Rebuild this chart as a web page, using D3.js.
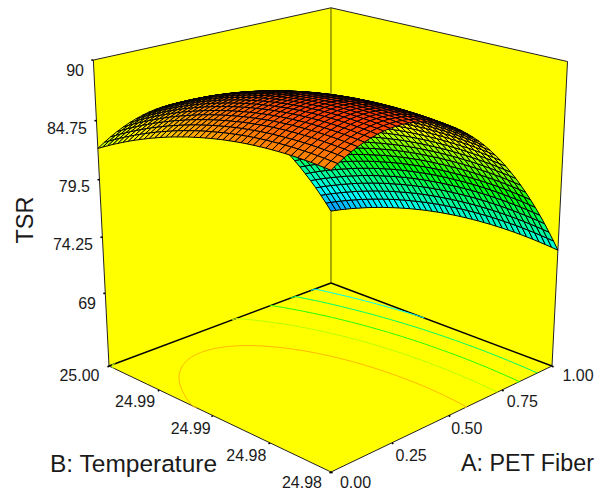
<!DOCTYPE html>
<html>
<head>
<meta charset="utf-8">
<script src="https://cdn.jsdelivr.net/npm/d3@7"></script>
<style>
  body { margin: 0; background: #fff; }
  text { font-family: "Liberation Sans", Arial, sans-serif; fill: #1a1a1a; }
</style>
</head>
<body>
<svg id="chart" width="600" height="490"></svg>
<script>
var zTicks = [69, 74.25, 79.5, 84.75, 90];
var aTicks = [0, 0.25, 0.5, 0.75, 1];
var bTicks = [0, 0.25, 0.5, 0.75, 1];
var aLabels = ["0.00", "0.25", "0.50", "0.75", "1.00"];
var bLabels = ["24.98", "24.98", "24.99", "24.99", "25.00"];
var contourLevels = [72.8, 76.1, 79.3, 82.5, 85.8];

// TSR, one row per step of B (24.98 first), one column per step of A
var zRows = [
[86.90,87.25,87.56,87.84,88.09,88.29,88.46,88.60,88.70,88.77,88.79,88.79,88.75,88.67,88.55,88.41,88.22,88.00,87.74,87.45,87.13,86.76,86.36,85.93,85.46,84.96,84.41,83.84,83.23,82.58,81.89,81.18,80.42,79.63,78.80,77.94,77.05,76.11,75.14,74.14,73.10],
[86.95,87.30,87.62,87.90,88.14,88.35,88.52,88.66,88.76,88.82,88.85,88.85,88.80,88.73,88.61,88.47,88.28,88.06,87.81,87.52,87.19,86.83,86.43,86.00,85.53,85.02,84.48,83.91,83.30,82.65,81.97,81.25,80.49,79.71,78.88,78.02,77.12,76.19,75.22,74.22,73.18],
[86.99,87.34,87.66,87.94,88.18,88.39,88.56,88.70,88.80,88.87,88.90,88.90,88.86,88.78,88.67,88.52,88.34,88.12,87.86,87.57,87.25,86.89,86.49,86.06,85.59,85.09,84.55,83.97,83.36,82.71,82.03,81.31,80.56,79.77,78.95,78.09,77.19,76.26,75.29,74.29,73.25],
[87.03,87.38,87.69,87.97,88.22,88.43,88.60,88.74,88.84,88.91,88.94,88.94,88.90,88.82,88.71,88.56,88.38,88.16,87.91,87.62,87.30,86.94,86.54,86.11,85.64,85.14,84.60,84.02,83.41,82.77,82.09,81.37,80.62,79.83,79.01,78.15,77.25,76.32,75.35,74.35,73.31],
[87.05,87.41,87.72,88.00,88.25,88.46,88.63,88.77,88.87,88.94,88.97,88.97,88.93,88.86,88.75,88.60,88.42,88.20,87.95,87.66,87.34,86.97,86.58,86.15,85.68,85.18,84.64,84.07,83.46,82.82,82.13,81.42,80.66,79.88,79.05,78.19,77.30,76.37,75.41,74.41,73.37],
[87.07,87.42,87.74,88.02,88.27,88.48,88.65,88.79,88.90,88.97,89.00,89.00,88.96,88.88,88.77,88.63,88.44,88.23,87.98,87.69,87.37,87.01,86.61,86.18,85.72,85.21,84.68,84.10,83.50,82.85,82.17,81.46,80.71,79.92,79.10,78.24,77.34,76.41,75.45,74.45,73.41],
[87.08,87.43,87.75,88.03,88.28,88.49,88.67,88.81,88.91,88.98,89.01,89.01,88.97,88.90,88.79,88.65,88.47,88.25,88.00,87.71,87.39,87.03,86.64,86.21,85.74,85.24,84.70,84.13,83.52,82.88,82.20,81.49,80.73,79.95,79.13,78.27,77.38,76.45,75.49,74.49,73.45],
[87.08,87.43,87.75,88.03,88.28,88.49,88.67,88.81,88.92,88.99,89.02,89.02,88.98,88.91,88.80,88.66,88.48,88.26,88.01,87.73,87.40,87.05,86.65,86.22,85.76,85.26,84.72,84.15,83.54,82.90,82.22,81.51,80.76,79.97,79.15,78.29,77.40,76.48,75.51,74.51,73.48],
[87.07,87.42,87.74,88.03,88.28,88.49,88.67,88.81,88.91,88.99,89.02,89.02,88.98,88.91,88.81,88.66,88.48,88.27,88.02,87.73,87.41,87.05,86.66,86.23,85.77,85.27,84.73,84.16,83.55,82.91,82.23,81.52,80.77,79.99,79.17,78.31,77.42,76.49,75.53,74.53,73.50],
[87.05,87.41,87.72,88.01,88.26,88.48,88.65,88.80,88.90,88.97,89.01,89.01,88.97,88.90,88.80,88.65,88.47,88.26,88.01,87.72,87.40,87.05,86.66,86.23,85.77,85.27,84.73,84.16,83.56,82.92,82.24,81.53,80.78,79.99,79.17,78.32,77.43,76.50,75.54,74.54,73.51],
[87.03,87.38,87.70,87.99,88.24,88.45,88.63,88.78,88.88,88.96,88.99,88.99,88.96,88.89,88.78,88.64,88.46,88.25,88.00,87.71,87.39,87.04,86.65,86.22,85.76,85.26,84.73,84.15,83.55,82.91,82.24,81.52,80.78,79.99,79.17,78.32,77.43,76.50,75.54,74.55,73.51],
[86.99,87.35,87.67,87.96,88.21,88.42,88.60,88.75,88.85,88.93,88.96,88.97,88.93,88.86,88.76,88.62,88.44,88.22,87.98,87.69,87.37,87.02,86.63,86.20,85.74,85.24,84.71,84.14,83.54,82.90,82.22,81.51,80.76,79.98,79.16,78.31,77.42,76.50,75.54,74.54,73.51],
[86.95,87.31,87.63,87.92,88.17,88.38,88.56,88.71,88.82,88.89,88.93,88.93,88.90,88.83,88.72,88.58,88.41,88.19,87.95,87.66,87.35,86.99,86.60,86.18,85.72,85.22,84.69,84.12,83.51,82.88,82.20,81.49,80.74,79.96,79.14,78.29,77.40,76.48,75.52,74.52,73.49],
[86.90,87.26,87.58,87.87,88.12,88.34,88.52,88.66,88.77,88.85,88.89,88.89,88.86,88.79,88.68,88.54,88.37,88.16,87.91,87.63,87.31,86.96,86.57,86.14,85.68,85.19,84.65,84.09,83.48,82.85,82.17,81.46,80.72,79.93,79.11,78.26,77.38,76.45,75.50,74.50,73.47],
[86.84,87.20,87.52,87.81,88.06,88.28,88.46,88.61,88.72,88.79,88.83,88.84,88.80,88.73,88.63,88.49,88.32,88.11,87.86,87.58,87.26,86.91,86.52,86.09,85.64,85.14,84.61,84.04,83.44,82.80,82.13,81.42,80.67,79.89,79.08,78.23,77.34,76.42,75.46,74.47,73.44],
[86.77,87.13,87.45,87.74,87.99,88.22,88.40,88.54,88.66,88.73,88.77,88.78,88.74,88.68,88.57,88.43,88.26,88.05,87.81,87.53,87.21,86.86,86.47,86.04,85.59,85.09,84.56,83.99,83.39,82.76,82.09,81.38,80.63,79.85,79.04,78.19,77.30,76.38,75.42,74.43,73.40],
[86.69,87.05,87.38,87.67,87.92,88.14,88.33,88.47,88.58,88.66,88.70,88.71,88.67,88.61,88.51,88.37,88.20,87.99,87.74,87.46,87.15,86.80,86.41,85.99,85.53,85.04,84.51,83.94,83.34,82.70,82.03,81.32,80.58,79.80,78.99,78.14,77.25,76.33,75.37,74.38,73.35],
[86.61,86.97,87.30,87.59,87.84,88.06,88.24,88.39,88.51,88.58,88.62,88.63,88.60,88.53,88.43,88.30,88.12,87.92,87.67,87.39,87.08,86.73,86.34,85.92,85.46,84.97,84.44,83.87,83.27,82.64,81.97,81.26,80.52,79.74,78.93,78.08,77.19,76.27,75.31,74.32,73.30],
[86.51,86.88,87.20,87.49,87.75,87.97,88.15,88.30,88.42,88.49,88.54,88.55,88.51,88.45,88.35,88.21,88.04,87.83,87.59,87.31,87.00,86.65,86.26,85.84,85.38,84.89,84.36,83.80,83.20,82.57,81.90,81.19,80.45,79.67,78.86,78.01,77.12,76.20,75.25,74.26,73.23],
[86.41,86.77,87.10,87.39,87.65,87.87,88.06,88.21,88.32,88.40,88.44,88.45,88.42,88.36,88.26,88.12,87.95,87.74,87.50,87.22,86.91,86.56,86.18,85.76,85.30,84.81,84.28,83.72,83.12,82.48,81.81,81.11,80.37,79.59,78.78,77.93,77.05,76.13,75.17,74.19,73.16],
[86.30,86.66,86.99,87.28,87.54,87.76,87.95,88.10,88.22,88.29,88.34,88.35,88.32,88.25,88.15,88.02,87.85,87.64,87.40,87.13,86.81,86.46,86.08,85.66,85.21,84.71,84.19,83.62,83.03,82.39,81.73,81.02,80.28,79.51,78.69,77.85,76.96,76.05,75.09,74.10,73.08],
[86.18,86.55,86.88,87.17,87.43,87.65,87.83,87.99,88.10,88.18,88.23,88.23,88.21,88.14,88.05,87.91,87.74,87.53,87.30,87.02,86.71,86.36,85.98,85.56,85.10,84.61,84.09,83.53,82.93,82.30,81.63,80.92,80.19,79.41,78.60,77.75,76.87,75.95,75.00,74.01,72.98],
[86.05,86.42,86.75,87.04,87.30,87.52,87.71,87.86,87.98,88.06,88.10,88.12,88.09,88.03,87.93,87.79,87.62,87.42,87.18,86.91,86.59,86.25,85.87,85.45,84.99,84.50,83.98,83.43,82.82,82.19,81.52,80.82,80.08,79.31,78.50,77.65,76.77,75.85,74.90,73.91,72.89],
[85.92,86.28,86.61,86.91,87.17,87.39,87.58,87.73,87.85,87.93,87.98,87.99,87.96,87.90,87.80,87.67,87.50,87.30,87.06,86.78,86.47,86.13,85.74,85.33,84.87,84.39,83.86,83.30,82.71,82.08,81.41,80.71,79.97,79.20,78.38,77.54,76.66,75.74,74.79,73.80,72.78],
[85.77,86.14,86.47,86.77,87.03,87.25,87.44,87.59,87.71,87.79,87.84,87.85,87.82,87.77,87.67,87.54,87.37,87.16,86.93,86.65,86.34,86.00,85.62,85.20,84.75,84.26,83.74,83.18,82.58,81.95,81.28,80.58,79.85,79.07,78.26,77.42,76.54,75.62,74.67,73.68,72.66],
[85.62,85.99,86.32,86.62,86.88,87.10,87.29,87.44,87.56,87.65,87.69,87.71,87.68,87.62,87.53,87.39,87.23,87.03,86.79,86.51,86.20,85.86,85.48,85.07,84.61,84.12,83.60,83.04,82.45,81.82,81.15,80.45,79.71,78.94,78.13,77.29,76.41,75.49,74.54,73.56,72.54],
[85.46,85.83,86.16,86.46,86.72,86.94,87.13,87.29,87.41,87.49,87.54,87.55,87.53,87.47,87.37,87.24,87.08,86.88,86.64,86.37,86.06,85.71,85.33,84.92,84.46,83.98,83.46,82.90,82.31,81.68,81.01,80.31,79.58,78.80,78.00,77.15,76.27,75.36,74.41,73.43,72.40],
[85.29,85.66,85.99,86.29,86.55,86.77,86.97,87.12,87.24,87.33,87.37,87.39,87.36,87.31,87.21,87.08,86.92,86.72,86.48,86.21,85.90,85.56,85.18,84.76,84.31,83.83,83.30,82.75,82.16,81.53,80.86,80.16,79.43,78.66,77.85,77.00,76.13,75.22,74.27,73.28,72.26],
[85.11,85.48,85.81,86.11,86.37,86.60,86.79,86.95,87.07,87.15,87.20,87.22,87.20,87.14,87.04,86.91,86.76,86.55,86.32,86.05,85.74,85.39,85.01,84.60,84.15,83.67,83.15,82.58,82.00,81.37,80.71,80.01,79.27,78.50,77.70,76.85,75.98,75.07,74.11,73.13,72.11],
[84.92,85.29,85.63,85.93,86.19,86.42,86.61,86.77,86.89,86.97,87.02,87.04,87.02,86.96,86.87,86.74,86.58,86.38,86.14,85.87,85.56,85.22,84.84,84.43,83.98,83.50,82.98,82.42,81.83,81.20,80.54,79.84,79.11,78.34,77.53,76.69,75.81,74.91,73.96,72.97,71.95],
[84.73,85.10,85.43,85.73,86.00,86.23,86.42,86.58,86.70,86.79,86.84,86.85,86.83,86.77,86.68,86.55,86.39,86.19,85.96,85.69,85.38,85.04,84.66,84.25,83.80,83.32,82.80,82.24,81.65,81.03,80.37,79.67,78.94,78.17,77.37,76.52,75.65,74.74,73.79,72.81,71.79],
[84.52,84.89,85.23,85.53,85.80,86.02,86.22,86.38,86.50,86.59,86.64,86.65,86.63,86.58,86.49,86.36,86.21,86.00,85.77,85.50,85.19,84.85,84.47,84.06,83.61,83.13,82.62,82.06,81.47,80.84,80.18,79.49,78.75,77.99,77.18,76.34,75.47,74.56,73.61,72.63,71.61],
[84.31,84.68,85.02,85.32,85.59,85.82,86.01,86.17,86.29,86.38,86.43,86.45,86.43,86.37,86.29,86.16,86.00,85.80,85.57,85.30,85.00,84.65,84.28,83.87,83.42,82.94,82.42,81.87,81.28,80.65,80.00,79.30,78.56,77.80,77.00,76.15,75.28,74.38,73.43,72.44,71.43],
[84.09,84.46,84.80,85.10,85.37,85.60,85.79,85.95,86.08,86.17,86.22,86.24,86.22,86.16,86.07,85.95,85.79,85.60,85.36,85.09,84.79,84.45,84.07,83.66,83.22,82.74,82.22,81.66,81.08,80.45,79.79,79.10,78.36,77.60,76.80,75.96,75.09,74.18,73.23,72.25,71.24],
[83.86,84.23,84.57,84.87,85.14,85.37,85.56,85.73,85.85,85.94,86.00,86.01,85.99,85.94,85.85,85.73,85.57,85.37,85.14,84.87,84.57,84.23,83.86,83.45,83.00,82.52,82.01,81.45,80.87,80.24,79.58,78.89,78.16,77.39,76.59,75.75,74.88,73.97,73.03,72.05,71.03],
[83.62,83.99,84.33,84.64,84.90,85.14,85.33,85.49,85.62,85.71,85.76,85.78,85.76,85.71,85.63,85.50,85.34,85.15,84.92,84.65,84.35,84.01,83.64,83.23,82.78,82.30,81.79,81.24,80.65,80.02,79.36,78.67,77.94,77.18,76.38,75.54,74.67,73.76,72.82,71.84,70.82],
[83.37,83.75,84.09,84.39,84.66,84.89,85.09,85.25,85.38,85.47,85.53,85.54,85.53,85.48,85.39,85.27,85.11,84.91,84.68,84.42,84.12,83.78,83.41,83.00,82.55,82.07,81.56,81.01,80.42,79.80,79.14,78.45,77.72,76.96,76.16,75.32,74.45,73.54,72.60,71.62,70.61],
[83.12,83.49,83.83,84.14,84.41,84.64,84.84,85.00,85.13,85.22,85.28,85.29,85.28,85.23,85.14,85.02,84.86,84.67,84.44,84.17,83.87,83.54,83.16,82.76,82.31,81.84,81.32,80.77,80.19,79.56,78.91,78.22,77.49,76.72,75.93,75.09,74.22,73.31,72.37,71.40,70.38],
[82.85,83.23,83.57,83.88,84.15,84.38,84.58,84.74,84.87,84.96,85.02,85.04,85.03,84.98,84.89,84.77,84.61,84.42,84.19,83.92,83.63,83.29,82.92,82.51,82.07,81.59,81.08,80.53,79.94,79.32,78.67,77.98,77.25,76.48,75.69,74.85,73.98,73.08,72.14,71.16,70.15],
[82.58,82.96,83.30,83.61,83.88,84.11,84.31,84.48,84.61,84.70,84.76,84.78,84.76,84.72,84.63,84.51,84.35,84.17,83.93,83.67,83.37,83.04,82.66,82.26,81.82,81.34,80.83,80.28,79.69,79.07,78.42,77.73,77.00,76.24,75.44,74.61,73.74,72.83,71.89,70.92,69.90],
[82.30,82.68,83.02,83.33,83.60,83.84,84.04,84.20,84.33,84.43,84.48,84.51,84.49,84.44,84.36,84.24,84.08,83.89,83.66,83.40,83.10,82.77,82.39,81.99,81.55,81.08,80.56,80.01,79.43,78.81,78.15,77.46,76.74,75.97,75.18,74.34,73.48,72.58,71.64,70.66,69.65]
];

var nCells = zRows.length - 1;
var zNorm = d3.scaleLinear().domain([62, 90]).range([0, 1]);
var gridPos = d3.scaleLinear().domain([0, nCells]).range([0, 1]);

// rainbow ramp the surface and the floor contours are painted with
var colour = d3.scaleLinear()
    .domain([66.5, 72.5, 78.5, 84, 90.5])
    .range(["#0000ff", "#00ffff", "#00ff00", "#ffff00", "#ff0000"])
    .clamp(true);

// perspective box: floor homography plus a vanishing point for the verticals
function project(a, b, z) {
    var g = 0.1411, h = 0.136, q = -0.0749;
    var w = 1 + g * a + h * b;
    var x = (331 + a * (552 * (1 + g) - 331) + b * (109 * (1 + h) - 331)) / w;
    var y = (472 + a * (366 * (1 + g) - 472) + b * (366 * (1 + h) - 472)) / w;
    var n = zNorm(z);
    var t = n * q / (w + n * q);
    return [x + (331 - x) * t, y + (4700 - y) * t];
}

var svg = d3.select("#chart");
var path = d3.line();
var zFloor = 62, zTop = 90;

function poly(points, fill) {
    svg.append("path")
        .attr("d", path(points) + "Z")
        .attr("fill", fill)
        .attr("stroke", "none");
}

function edge(p, q, col, width) {
    svg.append("path")
        .attr("d", path([p, q]))
        .attr("fill", "none")
        .attr("stroke", col)
        .attr("stroke-width", width);
}

var F = project(0, 0, zFloor), R = project(1, 0, zFloor), L = project(0, 1, zFloor), K = project(1, 1, zFloor);
var RT = project(1, 0, zTop), LT = project(0, 1, zTop), KT = project(1, 1, zTop);

poly([L, K, KT, LT], "#ffff00");
poly([R, K, KT, RT], "#ffff00");
poly([F, R, K, L], "#ffff00");

edge(L, LT, "#222", 1);
edge(R, RT, "#222", 1);
edge(LT, KT, "#222", 1);
edge(RT, KT, "#222", 1);
edge(K, KT, "#555500", 1);
edge(L, K, "#000", 1.4);
edge(R, K, "#000", 1.4);
edge(F, L, "#222", 1);
edge(F, R, "#222", 1);

// contour lines on the floor, the box boundary of each ring is left out
function toFloor(pt) {
    var a = Math.max(0, Math.min(1, gridPos(pt[0] - 0.5)));
    var b = Math.max(0, Math.min(1, gridPos(pt[1] - 0.5)));
    return project(a, b, zFloor);
}
function onBorder(pt) {
    return pt[0] <= 0 || pt[0] >= nCells + 1 || pt[1] <= 0 || pt[1] >= nCells + 1;
}
d3.contours().size([nCells + 1, nCells + 1]).smooth(true).thresholds(contourLevels)(zRows.flat()).forEach(function (c) {
    var d = "";
    c.coordinates.forEach(function (polygon) {
        polygon.forEach(function (ring) {
            for (var i = 1; i < ring.length; i++) {
                if (onBorder(ring[i - 1]) && onBorder(ring[i])) continue;
                d += path([toFloor(ring[i - 1]), toFloor(ring[i])]);
            }
        });
    });
    svg.append("path")
        .attr("d", d)
        .attr("fill", "none")
        .attr("stroke", colour(c.value))
        .attr("stroke-width", 1);
});

// surface, far corner first so the near cells paint over the far ones
var cells = svg.append("g");
for (var j = nCells - 1; j >= 0; j--) {
    for (var i = nCells - 1; i >= 0; i--) {
        var z00 = zRows[j][i], z10 = zRows[j][i + 1], z01 = zRows[j + 1][i], z11 = zRows[j + 1][i + 1];
        var a0 = gridPos(i), a1 = gridPos(i + 1), b0 = gridPos(j), b1 = gridPos(j + 1);
        cells.append("path")
            .attr("d", path([project(a0, b0, z00), project(a1, b0, z10), project(a1, b1, z11), project(a0, b1, z01)]) + "Z")
            .attr("fill", colour((z00 + z10 + z01 + z11) / 4))
            .attr("stroke", "#000")
            .attr("stroke-width", 1)
            .attr("stroke-linejoin", "round");
    }
}

// tick marks
function tick(p, dx, dy) {
    svg.append("path")
        .attr("d", path([p, [p[0] + dx, p[1] + dy]]))
        .attr("stroke", "#000")
        .attr("stroke-width", 1.6)
        .attr("fill", "none");
}
zTicks.forEach(function (v) { tick(project(0, 1, v), -2, 0); });
aTicks.forEach(function (v) { tick(project(v, 0, zFloor), 1.5, 1); });
bTicks.forEach(function (v) { tick(project(0, v, zFloor), -1.5, 1); });

// tick labels
var zLabelX = d3.scaleLinear().domain([0, 4]).range([96, 84]);
var zLabelY = d3.scaleLinear().domain([0, 4]).range([303, 70]);
var floorLabelY = d3.scaleLinear().domain([0, 1]).range([482, 375]);
var aLabelX = d3.scaleLinear().domain([0, 1]).range([355.5, 578]);
var bLabelX = d3.scaleLinear().domain([0, 1]).range([302, 79.5]);

function label(x, y, s, anchor, size) {
    return svg.append("text")
        .attr("x", x)
        .attr("y", y)
        .attr("dy", "0.35em")
        .attr("text-anchor", anchor)
        .attr("font-size", size)
        .text(s);
}
zTicks.forEach(function (v, i) { label(zLabelX(i), zLabelY(i), v, "end", 16); });
aTicks.forEach(function (v, i) { label(aLabelX(v), floorLabelY(v), aLabels[i], "middle", 16); });
bTicks.forEach(function (v, i) { label(bLabelX(v), floorLabelY(v), bLabels[i], "middle", 16); });

// axis titles
label(50, 463, "B: Temperature", "start", 24.5);
label(461, 463, "A: PET Fiber", "start", 23.3);
label(0, 0, "TSR", "middle", 23.5).attr("transform", "translate(25,220) rotate(-90)");
</script>
</body>
</html>
